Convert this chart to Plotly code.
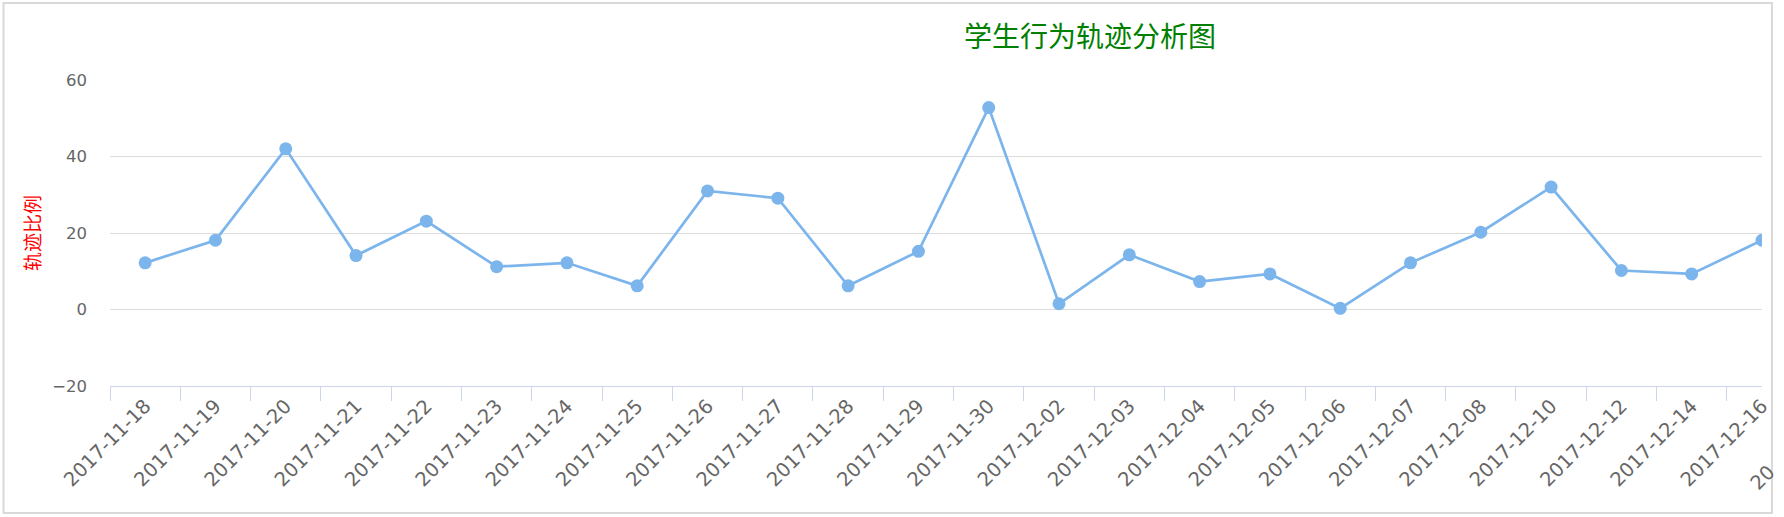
import plotly.graph_objects as go

# ---- data ----
dates = [
    "2017-11-18", "2017-11-19", "2017-11-20", "2017-11-21", "2017-11-22",
    "2017-11-23", "2017-11-24", "2017-11-25", "2017-11-26", "2017-11-27",
    "2017-11-28", "2017-11-29", "2017-11-30", "2017-12-02", "2017-12-03",
    "2017-12-04", "2017-12-05", "2017-12-06", "2017-12-07", "2017-12-08",
    "2017-12-10", "2017-12-12", "2017-12-14", "2017-12-16",
]
ratios = [
    12.2, 18.1, 42.0, 14.1, 23.1, 11.2, 12.2, 6.2, 31.0, 29.1, 6.2, 15.2, 52.8,
    1.5, 14.3, 7.3, 9.3, 0.3, 12.2, 20.2, 32.0, 10.2, 9.3, 18.1,
]
y_ticks = [-20, 0, 20, 40, 60]
title_text = "学生行为轨迹分析图"
y_title = "轨迹比例"
cut_label = "20"   # start of the next (cut-off) category label

# ---- layout geometry ----
W, H = 1784, 517
ML, MR, MT, MB = 110, 14, 80, 131
PW, PH = W - ML - MR, H - MT - MB


def px_x(px):
    return (px - ML) / PW


def px_y(py):
    return (H - MB - py) / PH


LINE = "#7cb5ec"
AXIS = "#ccd6eb"
GRID = "#dcdcdc"
LABEL = "#666666"
FONT = "DejaVu Sans"
CJK = "Noto Sans CJK SC"

fig = go.Figure(
    go.Scatter(
        x=dates,
        y=ratios,
        mode="lines+markers",
        line=dict(color=LINE, width=2.7),
        marker=dict(size=13, color=LINE),
        cliponaxis=True,
        hoverinfo="x+y",
    )
)

fig.update_layout(
    width=W,
    height=H,
    margin=dict(l=ML, r=MR, t=MT, b=MB, pad=0),
    paper_bgcolor="white",
    plot_bgcolor="white",
    showlegend=False,
    title=dict(
        text=title_text,
        font=dict(family=CJK, size=28, color="#008000"),
        x=1090 / W,
        xref="container",
        xanchor="center",
        y=1 - 37 / H,
        yref="container",
        yanchor="middle",
    ),
    xaxis=dict(
        type="category",
        range=[-0.5, len(dates) - 1],
        tickson="boundaries",
        ticks="outside",
        ticklen=14,
        tickwidth=1,
        tickcolor=AXIS,
        showline=True,
        linecolor=AXIS,
        linewidth=1,
        showgrid=False,
        zeroline=False,
        tickangle=-45,
        tickfont=dict(family=FONT, size=19.5, color=LABEL),
        fixedrange=True,
    ),
    yaxis=dict(
        range=[y_ticks[0], y_ticks[-1]],
        tickvals=y_ticks,
        showgrid=True,
        gridcolor=GRID,
        gridwidth=1,
        zeroline=False,
        showline=False,
        ticks="",
        ticklabelstandoff=22,
        tickfont=dict(family=FONT, size=16.5, color=LABEL),
        title=dict(text=y_title, font=dict(family=CJK, size=19, color="red"), standoff=6),
        fixedrange=True,
    ),
    shapes=[
        dict(
            type="rect",
            xref="paper",
            yref="paper",
            x0=px_x(3),
            x1=px_x(1780),
            y0=px_y(513),
            y1=px_y(3),
            line=dict(color="#d9d9d9", width=2),
            fillcolor="rgba(0,0,0,0)",
            layer="above",
        )
    ],
    annotations=[
        dict(
            text=cut_label,
            xref="paper",
            yref="paper",
            x=px_x(1751),
            y=px_y(497),
            xanchor="left",
            yanchor="bottom",
            textangle=-45,
            showarrow=False,
            font=dict(family=FONT, size=19.5, color=LABEL),
        )
    ],
)

fig.write_html(
    "out.html",
    config={"displayModeBar": False, "staticPlot": False},
    post_script="document.body.style.margin='0px';document.body.style.overflow='hidden';",
)
